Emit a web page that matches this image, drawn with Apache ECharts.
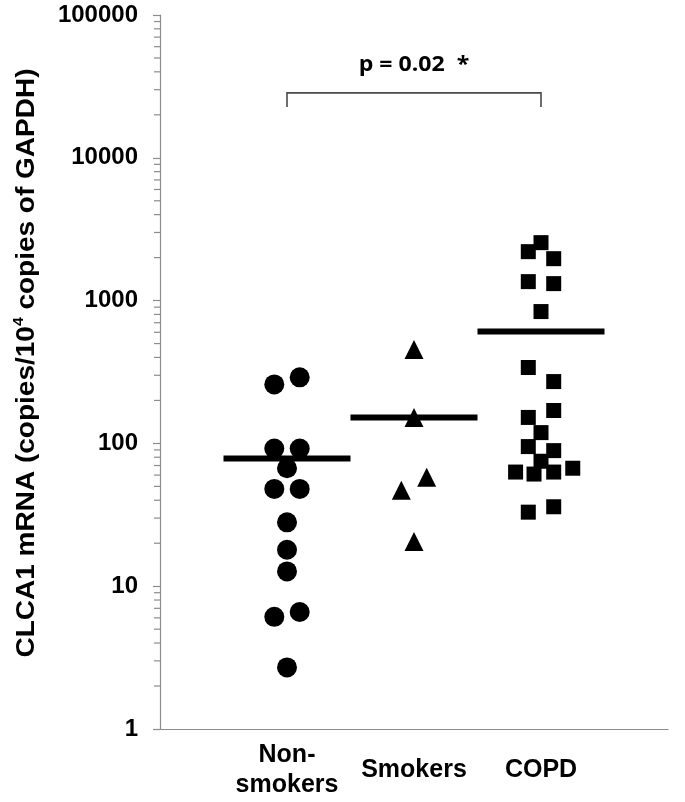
<!DOCTYPE html>
<html>
<head>
<meta charset="utf-8">
<script src="https://cdn.jsdelivr.net/npm/echarts@6/dist/echarts.min.js"></script>
<style>
html,body{margin:0;padding:0;background:#fff;}
#chart{width:685px;height:802px;}
</style>
</head>
<body>
<div id="chart"></div>
<script>
// ---- data ----
var categories = ['Non-\nsmokers', 'Smokers', 'COPD'];
var categoryX = [1, 2, 3];

var nonSmokersX = [0.9, 1.1, 0.9, 1.1, 1.0, 0.9, 1.1, 1.0, 1.0, 1.0, 0.9, 1.1, 1.0];
var nonSmokersY = [259, 290, 92, 92, 67, 48, 48, 28, 18, 12.7, 6.1, 6.6, 2.7];

var smokersX = [2.0, 2.0, 2.1, 1.9, 2.0];
var smokersY = [454, 152, 58, 47, 20.6];

var copdX = [3.0, 2.9, 3.1, 2.9, 3.1, 3.0, 2.9, 3.1, 3.1, 2.9, 3.0, 2.9, 3.1, 3.0, 2.8, 2.945, 3.1, 3.25, 2.9, 3.1];
var copdY = [2546, 2202, 1966, 1358, 1315, 838, 340, 271, 170, 152, 119, 95, 89, 75, 63, 61, 63, 67, 33, 36];

var groupMeans = [78.5, 152, 607];

var yTicks = [1, 10, 100, 1000, 10000, 100000];
var minorTickFactors = [2, 3, 4, 5, 6, 7, 8, 9];

var pValueText = 'p = 0.02  *';
var bracketFrom = 1, bracketTo = 3;
var bracketTopValue = 28500, bracketLegValue = 22700, pLabelValue = 44700;

var yAxisTitle = 'CLCA1 mRNA (copies/10';
var yAxisTitleSup = '4';
var yAxisTitleEnd = ' copies of GAPDH)';

// ---- build ----
function zip(xs, ys) { return xs.map(function (x, i) { return [x, ys[i]]; }); }

var minorTicks = [];
for (var d = 0; d < yTicks.length - 1; d++) {
  minorTickFactors.forEach(function (f) { minorTicks.push([0, yTicks[d] * f]); });
}

var chart = echarts.init(document.getElementById('chart'));
var FONT = '"Liberation Sans", Arial, sans-serif';

chart.setOption({
  animation: false,
  backgroundColor: '#ffffff',
  grid: { left: 160, right: 17, top: 15, bottom: 73, containLabel: false },
  xAxis: {
    type: 'value', min: 0, max: 4, interval: 1,
    axisLine: { show: true, lineStyle: { color: '#8c8c8c', width: 1.2 } },
    axisTick: { show: false },
    splitLine: { show: false },
    axisLabel: {
      margin: 41,
      verticalAlign: 'middle',
      fontFamily: FONT, fontWeight: 'bold', fontSize: 25, color: '#000', lineHeight: 30,
      formatter: function (v) {
        var i = categoryX.indexOf(v);
        return i >= 0 ? categories[i] : '';
      }
    }
  },
  yAxis: {
    type: 'log', logBase: 10, min: 1, max: 100000,
    axisLine: { show: true, lineStyle: { color: '#8c8c8c', width: 1.2 } },
    axisTick: { show: true, inside: false, length: 7, lineStyle: { color: '#8c8c8c', width: 1.2 } },
    minorTick: { show: false },
    splitLine: { show: false },
    axisLabel: {
      margin: 22,
      fontFamily: FONT, fontWeight: 'bold', fontSize: 24, color: '#000',
      formatter: function (v) { return String(Math.round(v)); }
    }
  },
  graphic: [{
    type: 'text',
    x: 27, y: 363,
    rotation: Math.PI / 2,
    scaleX: 1.12,
    style: {
      text: '{a|' + yAxisTitle + '}{s|' + yAxisTitleSup + '}{a|' + yAxisTitleEnd + '}',
      align: 'center', verticalAlign: 'middle',
      rich: {
        a: { fontFamily: FONT, fontWeight: 'bold', fontSize: 25, fill: '#000', lineHeight: 30 },
        s: { fontFamily: FONT, fontWeight: 'bold', fontSize: 14, fill: '#000', verticalAlign: 'top', lineHeight: 30 }
      }
    }
  }],
  series: [
    {
      type: 'custom', name: 'minorTicks', clip: false, silent: true,
      data: minorTicks,
      renderItem: function (params, api) {
        var p = api.coord([api.value(0), api.value(1)]);
        return { type: 'line', shape: { x1: p[0] - 6, y1: p[1], x2: p[0], y2: p[1] },
          style: { stroke: '#8c8c8c', lineWidth: 1.2 } };
      }
    },
    {
      type: 'scatter', name: 'Non-smokers', symbol: 'circle', symbolSize: 20,
      itemStyle: { color: '#000', opacity: 1 }, data: zip(nonSmokersX, nonSmokersY), z: 3
    },
    {
      type: 'scatter', name: 'Smokers', symbol: 'triangle', symbolSize: 19,
      itemStyle: { color: '#000', opacity: 1 }, data: zip(smokersX, smokersY), z: 3
    },
    {
      type: 'scatter', name: 'COPD', symbol: 'rect', symbolSize: 15,
      itemStyle: { color: '#000', opacity: 1 }, data: zip(copdX, copdY), z: 3
    },
    {
      type: 'custom', name: 'means', clip: false, z: 4,
      data: zip(categoryX, groupMeans),
      renderItem: function (params, api) {
        var x = api.value(0), m = api.value(1);
        var p1 = api.coord([x - 0.5, m]), p2 = api.coord([x + 0.5, m]);
        return { type: 'line', shape: { x1: p1[0], y1: p1[1], x2: p2[0], y2: p2[1] },
          style: { stroke: '#000', lineWidth: 6 } };
      }
    },
    {
      type: 'custom', name: 'bracket', clip: false,
      data: [[bracketFrom, bracketTo, bracketTopValue, bracketLegValue, pLabelValue]],
      renderItem: function (params, api) {
        var a = api.value(0), b = api.value(1), top = api.value(2), leg = api.value(3), lab = api.value(4);
        var p1 = api.coord([a, leg]), p2 = api.coord([a, top]), p3 = api.coord([b, top]), p4 = api.coord([b, leg]);
        var t = api.coord([(a + b) / 2, lab]);
        return {
          type: 'group',
          children: [
            { type: 'polyline', shape: { points: [p1, p2, p3, p4] },
              style: { stroke: '#4a4a4a', lineWidth: 1.6, fill: null } },
            { type: 'text', x: t[0], y: t[1], scaleX: 1.1,
              style: { text: pValueText, fill: '#000', fontFamily: '"Open Sans", "Liberation Sans", sans-serif',
                fontWeight: 'bold', fontSize: 21, align: 'center', verticalAlign: 'middle' } }
          ]
        };
      }
    }
  ]
});
</script>
</body>
</html>
